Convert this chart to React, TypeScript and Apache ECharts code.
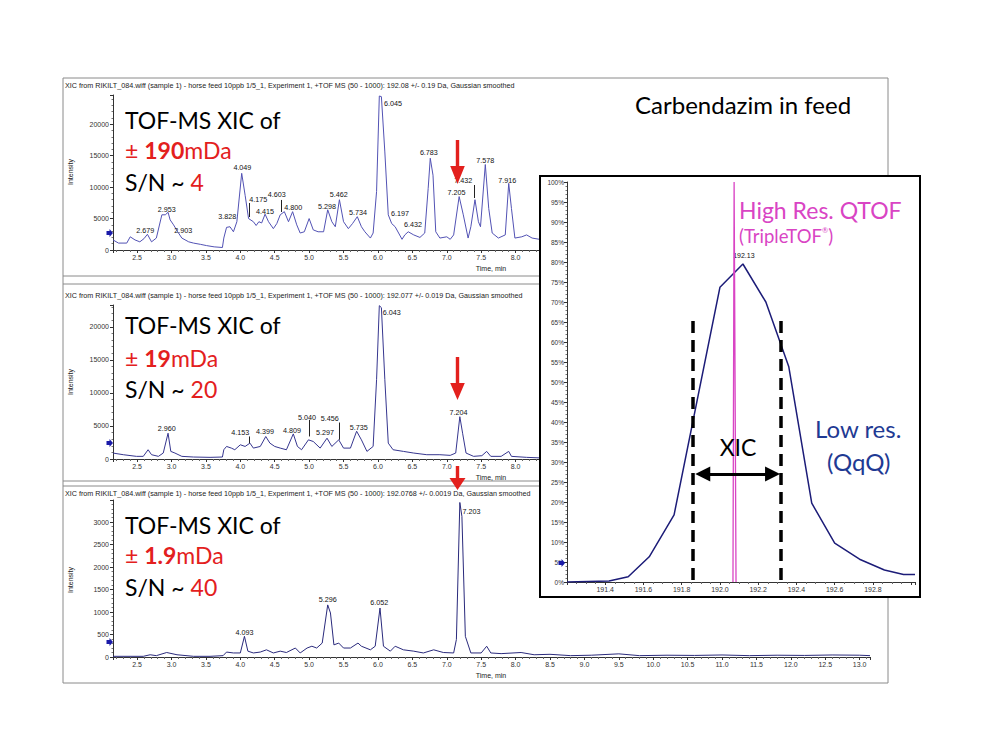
import React, { useEffect, useRef } from 'react';
import * as echarts from 'echarts';

// ---------- data ----------
const timeMin = 2.15;
const timeMax = 13.15;

// top panel: XIC +/- 190 mDa (time min, intensity)
const topTrace: [number, number][] = [
  [2.15, 1600], [2.23, 1100], [2.35, 1100], [2.4, 2100], [2.47, 1600], [2.54, 1300], [2.6, 1800], [2.65, 2500],
  [2.71, 1300], [2.78, 1900], [2.86, 5600], [2.91, 5600], [2.95, 6000], [2.98, 4800], [3.03, 4000], [3.09, 2900],
  [3.15, 1900], [3.25, 1300], [3.32, 1100], [3.42, 900], [3.51, 700], [3.62, 500], [3.74, 400], [3.76, 1900],
  [3.8, 3600], [3.85, 3700], [3.9, 2900], [3.95, 4500], [4.02, 12200], [4.07, 8700], [4.12, 5000], [4.19, 4500],
  [4.23, 3900], [4.27, 4500], [4.31, 4300], [4.36, 5700], [4.41, 4500], [4.48, 3400], [4.53, 4200], [4.58, 5600],
  [4.64, 6100], [4.7, 4500], [4.76, 6100], [4.82, 4000], [4.87, 2700], [4.93, 2900], [5.0, 5000], [5.06, 3200],
  [5.13, 2900], [5.21, 2900], [5.27, 6400], [5.33, 4500], [5.38, 3700], [5.44, 8000], [5.5, 4500], [5.57, 3400],
  [5.63, 4200], [5.7, 5300], [5.76, 3700], [5.81, 2900], [5.89, 1900], [5.93, 2700], [5.98, 9300], [6.02, 24500],
  [6.05, 24400], [6.1, 15600], [6.15, 5600], [6.2, 4200], [6.25, 3700], [6.3, 2700], [6.35, 1700], [6.39, 2400],
  [6.44, 2900], [6.52, 2400], [6.61, 2000], [6.68, 2700], [6.73, 9800], [6.76, 14600], [6.8, 11900], [6.84, 2900],
  [6.9, 1900], [7.0, 2100], [7.05, 1700], [7.1, 2400], [7.18, 8500], [7.24, 5600], [7.31, 1900], [7.35, 3700],
  [7.41, 8000], [7.46, 4500], [7.49, 3700], [7.56, 13600], [7.61, 6600], [7.66, 2700], [7.75, 1900], [7.85, 2400],
  [7.9, 10600], [7.94, 6600], [7.99, 1900], [8.09, 2100], [8.16, 2400], [8.24, 1900], [8.4, 1600],
];

// middle panel: XIC +/- 19 mDa
const midTrace: [number, number][] = [
  [2.15, 900], [2.3, 650], [2.49, 400], [2.59, 400], [2.66, 1400], [2.71, 650], [2.81, 400], [2.88, 900],
  [2.95, 3900], [2.99, 1150], [3.05, 900], [3.15, 400], [3.32, 300], [3.56, 250], [3.74, 300], [3.76, 1400],
  [3.8, 1900], [3.87, 1650], [3.92, 1400], [4.0, 2150], [4.07, 1900], [4.14, 2400], [4.19, 1650], [4.29, 1900],
  [4.37, 3400], [4.43, 2400], [4.5, 1900], [4.58, 1650], [4.67, 1400], [4.77, 3800], [4.83, 1900], [4.89, 1400],
  [4.99, 2900], [5.06, 2650], [5.16, 1650], [5.26, 3150], [5.33, 1900], [5.43, 2900], [5.5, 1650], [5.6, 1650],
  [5.69, 4200], [5.76, 2900], [5.84, 1150], [5.93, 1900], [5.98, 12000], [6.02, 23200], [6.05, 22900], [6.1, 12000],
  [6.15, 2400], [6.22, 1400], [6.37, 1150], [6.52, 900], [6.71, 650], [6.9, 650], [7.05, 550], [7.13, 900],
  [7.19, 6400], [7.23, 3900], [7.28, 900], [7.39, 400], [7.51, 500], [7.58, 1150], [7.64, 400], [7.79, 400],
  [7.9, 1150], [7.94, 400], [8.16, 250], [8.4, 150],
];

// bottom panel: XIC +/- 1.9 mDa
const botTrace: [number, number][] = [
  [2.15, 15], [2.59, 15], [2.69, 50], [2.78, 30], [2.93, 100], [3.08, 50], [3.32, 15], [3.56, 15],
  [3.75, 30], [3.8, 110], [3.9, 90], [4.0, 90], [4.06, 460], [4.11, 130], [4.19, 90], [4.29, 110],
  [4.38, 160], [4.48, 90], [4.58, 130], [4.67, 100], [4.8, 200], [4.87, 90], [4.97, 200], [5.04, 240],
  [5.11, 200], [5.19, 310], [5.27, 1160], [5.31, 980], [5.36, 270], [5.43, 310], [5.5, 200], [5.6, 200],
  [5.71, 310], [5.76, 240], [5.89, 160], [5.96, 240], [6.03, 1090], [6.08, 240], [6.18, 130], [6.25, 240],
  [6.37, 160], [6.52, 130], [6.66, 90], [6.81, 160], [6.95, 100], [7.1, 90], [7.14, 390], [7.19, 3440],
  [7.22, 3130], [7.27, 460], [7.35, 90], [7.5, 90], [7.58, 240], [7.64, 90], [7.79, 75], [8.08, 100],
  [8.27, 50], [8.5, 60], [8.8, 30], [9.1, 40], [9.5, 70], [9.8, 30], [10.2, 40], [10.6, 35],
  [11.0, 45], [11.4, 30], [11.8, 40], [12.2, 35], [12.6, 45], [13.0, 40], [13.15, 30],
];

// peak labels: [text, time anchor, intensity anchor]
const topLabels: [string, number, number][] = [
  ['2.679', 2.62, 2540], ['2.953', 2.93, 5890], ['2.903', 3.17, 2550], ['3.828', 3.81, 4770],
  ['4.049', 4.03, 12570], ['4.175', 4.26, 7480], ['4.415', 4.36, 5570], ['4.603', 4.53, 8270],
  ['4.800', 4.77, 6200], ['5.298', 5.26, 6360], ['5.462', 5.43, 8270], ['5.734', 5.71, 5410],
  ['6.045', 6.22, 22750], ['6.197', 6.32, 5250], ['6.432', 6.51, 3500], ['6.783', 6.74, 14960],
  ['7.205', 7.14, 8590], ['7.432', 7.24, 10500], ['7.578', 7.56, 13680], ['7.916', 7.88, 10500],
];
const topLeaders: [number, number, number][] = [[4.13, 7480, 5250], [4.59, 7960, 6050], [7.4, 10340, 8270]];

const midLabels: [string, number, number][] = [
  ['2.960', 2.93, 4070], ['4.153', 4.0, 3410], ['4.399', 4.36, 3560], ['4.809', 4.75, 3820],
  ['5.040', 4.97, 5730], ['5.297', 5.23, 3410], ['5.456', 5.3, 5580], ['5.735', 5.72, 4220],
  ['6.043', 6.2, 21660], ['7.204', 7.17, 6570],
];
const midLeaders: [number, number, number][] = [[4.13, 3410, 2410], [5.0, 5930, 3410], [5.44, 5520, 2910]];

const botLabels: [string, number, number][] = [
  ['4.093', 4.06, 470], ['5.296', 5.27, 1200], ['6.052', 6.02, 1125], ['7.203', 7.36, 3166],
];

// inset: mass profile (m/z, relative %)
const lowRes: [number, number][] = [
  [191.2, 0], [191.42, 0.25], [191.52, 1.3], [191.63, 6.3], [191.76, 16.8], [192.0, 73.7], [192.12, 79.5],
  [192.24, 70], [192.36, 53.8], [192.48, 19.7], [192.6, 9.7], [192.73, 5.7], [192.86, 3], [192.96, 1.9], [193.02, 1.9],
];
const highRes: [number, number][] = [[192.068, 0], [192.074, 100], [192.084, 0]];
const xicWindow = [191.86, 192.32];
const xicArrowEnds = [191.91, 192.275];
const xicArrowLevel = 27;
const dashTop = 66;

const headers = [
  'XIC from RIKILT_084.wiff (sample 1) - horse feed 10ppb 1/5_1, Experiment 1, +TOF MS (50 - 1000): 192.08 +/- 0.19 Da, Gaussian smoothed',
  'XIC from RIKILT_084.wiff (sample 1) - horse feed 10ppb 1/5_1, Experiment 1, +TOF MS (50 - 1000): 192.077 +/- 0.019 Da, Gaussian smoothed',
  'XIC from RIKILT_084.wiff (sample 1) - horse feed 10ppb 1/5_1, Experiment 1, +TOF MS (50 - 1000): 192.0768 +/- 0.0019 Da, Gaussian smoothed',
];
const windows = ['190', '19', '1.9'];
const snValues = ['4', '20', '40'];

// ---------- styles ----------
const RED = '#e3201d';
const BIG = 'Lato';
const SMALL = 'Liberation Sans';
const LABEL_COLOR = '#111111';

const fmtTimeUpTo = (limit: number) => (v: number) =>
  Math.abs(v * 2 - Math.round(v * 2)) < 1e-6 && v <= limit ? v.toFixed(1) : '';

function panelAxes(i: number, labelLimit: number) {
  return {
    gridIndex: i,
    type: 'value',
    min: timeMin,
    max: timeMax,
    minInterval: 0.5,
    maxInterval: 0.5,
    splitNumber: 22,
    axisLine: { lineStyle: { color: '#333', width: 1 } },
    axisTick: { show: true, length: 3, lineStyle: { color: '#333' } },
    minorTick: { show: true, splitNumber: 5, length: 2, lineStyle: { color: '#666' } },
    splitLine: { show: false },
    axisLabel: { fontSize: 7, color: '#333', fontFamily: SMALL, margin: 4, formatter: fmtTimeUpTo(labelLimit), showMinLabel: false, showMaxLabel: false },
  };
}
function yAxisCfg(i: number, max: number, interval: number) {
  return {
    gridIndex: i,
    type: 'value',
    min: 0,
    max,
    interval,
    axisLine: { show: true, lineStyle: { color: '#333', width: 1 } },
    axisTick: { show: true, length: 3, lineStyle: { color: '#333' } },
    minorTick: { show: true, splitNumber: 5, length: 1.5, lineStyle: { color: '#777' } },
    splitLine: { show: false },
    axisLabel: { fontSize: 7, color: '#333', fontFamily: SMALL, margin: 4, showMaxLabel: false, formatter: (v: number) => String(v) },
  };
}
function traceSeries(i: number, data: [number, number][], color: string) {
  return {
    type: 'line', xAxisIndex: i, yAxisIndex: i, data, showSymbol: false, silent: true,
    lineStyle: { color, width: 1 }, z: 3,
  };
}
function labelSeries(i: number, labels: [string, number, number][], leaders: [number, number, number][]) {
  return {
    type: 'scatter', xAxisIndex: i, yAxisIndex: i, symbolSize: 0.1, silent: true, z: 4,
    itemStyle: { color: '#ffffff', opacity: 0 },
    data: labels.map(([n, t, v]) => ({ name: n, value: [t, v] })),
    label: {
      show: true, position: 'top', distance: 0, formatter: '{b}', fontSize: 7.2, color: LABEL_COLOR,
      fontFamily: SMALL, textBorderWidth: 0, opacity: 1,
    },
    markLine: {
      silent: true, symbol: 'none', label: { show: false }, animation: false,
      lineStyle: { color: '#222', width: 1, type: 'solid' },
      data: leaders.map(([t, a, b]) => [{ coord: [t, a] }, { coord: [t, b] }]),
    },
  };
}

function txt(x: number, y: number, text: string, size: number, fill: string, family = BIG, extra: any = {}) {
  return { type: 'text', x, y, z: 100, silent: true, style: { text, fontSize: size, fontFamily: family, fill, verticalAlign: 'middle', ...extra } };
}
function redArrow(cx: number, y0: number, y1: number, y2: number, hw: number) {
  return {
    type: 'polygon', z: 110, silent: true,
    shape: { points: [[cx - 1.7, y0], [cx + 1.7, y0], [cx + 1.7, y1], [cx + hw, y1], [cx, y2], [cx - hw, y1], [cx - 1.7, y1]] },
    style: { fill: RED },
  };
}
function blueMark(x: number, y: number) {
  return {
    type: 'polygon', z: 100, silent: true,
    shape: { points: [[x, y - 2], [x + 3, y - 2], [x + 3, y - 4], [x + 6.5, y], [x + 3, y + 4], [x + 3, y + 2], [x, y + 2]] },
    style: { fill: '#1a1aa8' },
  };
}

export default function App() {
  const mainRef = useRef<HTMLDivElement>(null);
  const insetRef = useRef<HTMLDivElement>(null);

  useEffect(() => {
    if (!mainRef.current || !insetRef.current) return;
    const main = echarts.init(mainRef.current, undefined, { renderer: 'svg' });
    const inset = echarts.init(insetRef.current, undefined, { renderer: 'svg' });

    const bigSize = 23;
    const textBlocks: any[] = [];
    const baselines = [[128, 158, 190], [333, 366, 397], [533, 563, 595]];
    baselines.forEach((b, i) => {
      const off = bigSize * 0.36;
      textBlocks.push(txt(125, b[0] - off, 'TOF-MS XIC of', bigSize, '#000'));
      textBlocks.push({
        type: 'text', x: 125, y: b[1] - off, z: 100, silent: true,
        style: {
          text: `{r|± }{b|${windows[i]}}{r|mDa}`, verticalAlign: 'middle',
          rich: {
            r: { fontSize: bigSize, fontFamily: BIG, fill: RED },
            b: { fontSize: bigSize, fontFamily: BIG, fontWeight: 'bold', fill: RED },
          },
        },
      });
      textBlocks.push({
        type: 'text', x: 125, y: b[2] - off, z: 100, silent: true,
        style: {
          text: `{k|S/N ~ }{r|${snValues[i]}}`, verticalAlign: 'middle',
          rich: {
            k: { fontSize: bigSize, fontFamily: BIG, fill: '#000' },
            r: { fontSize: bigSize, fontFamily: BIG, fill: RED },
          },
        },
      });
    });

    const frame: any[] = [
      { type: 'rect', z: 1, silent: true, shape: { x: 63, y: 78, width: 825, height: 605 }, style: { fill: 'none', stroke: '#8a8a8a', lineWidth: 1 } },
      { type: 'line', z: 1, silent: true, shape: { x1: 63, y1: 276, x2: 888, y2: 276 }, style: { stroke: '#8a8a8a', lineWidth: 1 } },
      { type: 'line', z: 1, silent: true, shape: { x1: 63, y1: 284, x2: 888, y2: 284 }, style: { stroke: '#8a8a8a', lineWidth: 1 } },
      { type: 'line', z: 1, silent: true, shape: { x1: 63, y1: 481, x2: 888, y2: 481 }, style: { stroke: '#8a8a8a', lineWidth: 1 } },
      { type: 'line', z: 1, silent: true, shape: { x1: 63, y1: 486, x2: 888, y2: 486 }, style: { stroke: '#8a8a8a', lineWidth: 1 } },
    ];
    const headerY = [85, 295, 493];
    const intensityY = [172, 382, 580];
    const timeY = [268, 477, 675];
    const markY = [233, 443, 642];
    const small: any[] = [];
    [0, 1, 2].forEach((i) => {
      small.push(txt(65, headerY[i], headers[i], 7.2, '#222', SMALL));
      small.push({ ...txt(70, intensityY[i], 'Intensity', 7, '#222', SMALL, { align: 'center' }), rotation: Math.PI / 2 });
      small.push(txt(491, timeY[i], 'Time, min', 7, '#222', SMALL, { align: 'center' }));
      small.push(blueMark(106.5, markY[i]));
    });

    main.setOption({
      animation: false,
      grid: [
        { left: 113, top: 95, width: 757, height: 155 },
        { left: 113, top: 305, width: 757, height: 154 },
        { left: 113, top: 500, width: 757, height: 157 },
      ],
      xAxis: [panelAxes(0, 8.3), panelAxes(1, 8.3), panelAxes(2, 13.1)],
      yAxis: [yAxisCfg(0, 24660, 5000), yAxisCfg(1, 23300, 5000), yAxisCfg(2, 3495, 500)],
      series: [
        traceSeries(0, topTrace, '#5252b4'),
        traceSeries(1, midTrace, '#36368f'),
        traceSeries(2, botTrace, '#2a2a7c'),
        labelSeries(0, topLabels, topLeaders),
        labelSeries(1, midLabels, midLeaders),
        labelSeries(2, botLabels, []),
      ],
      graphic: [
        ...frame,
        ...small,
        ...textBlocks,
        txt(635, 104, 'Carbendazim in feed', 24, '#000'),
        redArrow(457.5, 140, 166, 184, 7.3),
        redArrow(457.5, 357, 383, 400, 7.3),
        redArrow(457.5, 466, 478, 490, 8),
      ],
    });

    const MAG = '#d944c4';
    const NAVY = '#1f3a93';
    inset.setOption({
      animation: false,
      grid: { left: 26, top: 5, width: 348, height: 400 },
      xAxis: {
        type: 'value', min: 191.2, max: 193.02, interval: 0.2,
        axisLine: { lineStyle: { color: '#333' } },
        axisTick: { length: 3, lineStyle: { color: '#333' } },
        minorTick: { show: true, splitNumber: 4, length: 2, lineStyle: { color: '#666' } },
        splitLine: { show: false },
        axisLabel: {
          fontSize: 7, color: '#333', fontFamily: SMALL, margin: 4,
          formatter: (v: number) => (v < 191.3 || v > 192.9 ? '' : v.toFixed(1)),
        },
      },
      yAxis: {
        type: 'value', min: 0, max: 100, interval: 5,
        axisLine: { show: true, lineStyle: { color: '#333' } },
        axisTick: { show: true, length: 3, lineStyle: { color: '#333' } },
        minorTick: { show: true, splitNumber: 5, length: 1.5, lineStyle: { color: '#777' } },
        splitLine: { show: false },
        axisLabel: { fontSize: 6.5, color: '#333', fontFamily: SMALL, margin: 3, formatter: '{value}%' },
      },
      series: [
        {
          type: 'line', data: lowRes, showSymbol: false, silent: true, z: 3,
          lineStyle: { color: '#1c1c78', width: 1.5 },
          markLine: {
            silent: true, symbol: 'none', label: { show: false }, animation: false,
            lineStyle: { color: '#000', width: 3.5, type: [12, 7] },
            data: xicWindow.map((m) => [{ coord: [m, 0.5] }, { coord: [m, dashTop] }]),
          },
        },
        {
          type: 'line', data: highRes, showSymbol: false, silent: true, z: 4,
          lineStyle: { color: MAG, width: 1.3 },
          markLine: {
            silent: true, label: { show: false }, animation: false,
            symbol: ['triangle', 'triangle'], symbolSize: [15, 15],
            lineStyle: { color: '#000', width: 3, type: 'solid' },
            data: [[{ coord: [xicArrowEnds[0], xicArrowLevel] }, { coord: [xicArrowEnds[1], xicArrowLevel] }]],
          },
        },
        {
          type: 'scatter', symbolSize: 0.1, silent: true, itemStyle: { color: '#ffffff', opacity: 0 },
          data: [{ name: '192.13', value: [192.125, 80.5] }],
          label: { show: true, position: 'top', distance: 1, formatter: '{b}', fontSize: 7, color: LABEL_COLOR, fontFamily: SMALL, opacity: 1 },
        },
      ],
      graphic: [
        txt(198, 41 - 8.3, 'High Res. QTOF', 23, MAG),
        {
          type: 'text', x: 198, y: 66 - 6.6, z: 100, silent: true,
          style: {
            text: '{n|(TripleTOF}{s|®}{n|)}', verticalAlign: 'middle',
            rich: {
              n: { fontSize: 18.5, fontFamily: BIG, fill: MAG },
              s: { fontSize: 7.5, fontFamily: BIG, fill: MAG, verticalAlign: 'top' },
            },
          },
        },
        txt(197, 278 - 8.3, 'XIC', 23, '#000', BIG, { align: 'center' }),
        txt(274, 260 - 8.6, 'Low res.', 24, NAVY),
        txt(286, 293 - 8.6, '(QqQ)', 24, NAVY),
        blueMark(17.5, 386),
      ],
    });

    return () => {
      main.dispose();
      inset.dispose();
    };
  }, []);

  return (
    <div style={{ position: 'fixed', left: 0, top: 0, width: 1000, height: 750, background: '#fff' }}>
      <div ref={mainRef} style={{ position: 'absolute', left: 0, top: 0, width: 1000, height: 750 }} />
      <div
        style={{
          position: 'absolute', left: 539, top: 175, width: 382, height: 423, boxSizing: 'border-box',
          border: '2px solid #000', background: '#fff', zIndex: 2,
        }}
      >
        <div ref={insetRef} style={{ width: 378, height: 419 }} />
      </div>
    </div>
  );
}
